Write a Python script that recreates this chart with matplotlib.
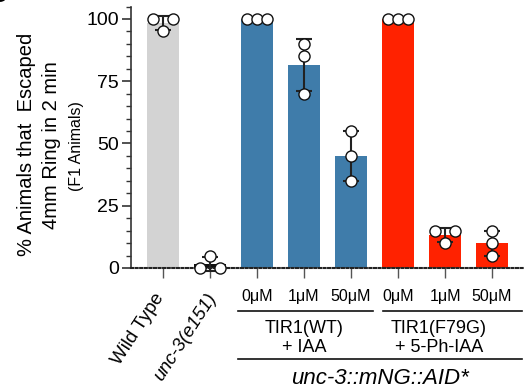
import numpy as np
import matplotlib
matplotlib.use("Agg")
import matplotlib.pyplot as plt
from matplotlib.ticker import MultipleLocator

plt.rcParams["font.family"] = ["Liberation Sans", "DejaVu Sans"]

# --- data ---
groups = ["Wild Type", "unc-3(e151)", "0μM", "1μM", "50μM", "0μM", "1μM", "50μM"]
replicates = [
    [100, 100, 95],
    [0, 0, 5],
    [100, 100, 100],
    [90, 85, 70],
    [55, 45, 35],
    [100, 100, 100],
    [15, 15, 10],
    [15, 10, 5],
]
bar_colors = ["#d3d3d3", "#111111", "#3f7caa", "#3f7caa", "#3f7caa",
              "#ff2200", "#ff2200", "#ff2200"]
treatment_labels = ["TIR1(WT)\n+ IAA", "TIR1(F79G)\n+ 5-Ph-IAA"]
strain_label = "unc-3::mNG::AID*"

x = np.arange(len(groups))
means = [np.mean(r) for r in replicates]
sds = [np.std(r, ddof=1) for r in replicates]

W, H = 525, 388
fig = plt.figure(figsize=(W / 100, H / 100), dpi=100)
ax = fig.add_axes([131 / W, 1 - 268 / H, 1 - 131 / W, (268 - 6.5) / H])

ax.bar(x, means, width=0.68, color=bar_colors, edgecolor="none", zorder=1)
ax.errorbar(x, means, yerr=sds, fmt="none", ecolor="#222", elinewidth=1.5,
            capsize=6, capthick=1.5, zorder=2, clip_on=False)

# replicate points, identical values spread sideways
spread = 0.215
for xi, vals in zip(x, replicates):
    vals = np.array(vals, dtype=float)
    for v in np.unique(vals):
        n = np.sum(vals == v)
        offs = (np.arange(n) - (n - 1) / 2) * spread
        if n == 2:
            offs = np.array([-spread, spread])
        ax.plot(xi + offs, [v] * n, "o", ms=8, mfc="white", mec="#111",
                mew=1.0, zorder=3, clip_on=False)

ax.set_xlim(-0.68, 7.70)
ax.set_ylim(0, 105)

for s in ["top", "right"]:
    ax.spines[s].set_visible(False)
ax.spines["left"].set_linewidth(1.2)
ax.spines["left"].set_color("#333")
ax.spines["bottom"].set_linewidth(1.5)
ax.spines["bottom"].set_linestyle((0, (1, 1.2)))
ax.spines["bottom"].set_color("#222")

ax.set_yticks([0, 25, 50, 75, 100])
ax.yaxis.set_minor_locator(MultipleLocator(5))
ax.tick_params(axis="y", which="major", length=6.5, width=1.2, color="#333",
               labelsize=14, pad=2)
ax.tick_params(axis="y", which="minor", length=3.5, width=1.0, color="#333")

ax.set_xticks(x)
ax.set_xticklabels([])
ax.tick_params(axis="x", length=7, width=1.0, color="#555")

xt = ax.get_xaxis_transform()


def ypos(px):
    # pixel row in the figure -> axes fraction (y axis)
    return -(px - 268) / 261.5


# x tick labels
for i, lab in enumerate(groups):
    if i < 2:
        ax.annotate(lab, xy=(x[i], 0), xycoords=("data", "axes fraction"),
                    xytext=(-2 if i == 0 else 2, -19), textcoords="offset points",
                    rotation=57, rotation_mode="anchor", ha="right", va="center",
                    fontsize=13.5, style="italic" if i == 1 else "normal")
    else:
        ax.text(x[i], ypos(297), lab, transform=xt, ha="center", va="center",
                fontsize=11.5)

# group brackets
for (x0, x1), lab, cx in zip([(1.6, 4.47), (4.68, 7.64)], treatment_labels,
                             [3.0, 5.87]):
    ax.plot([x0, x1], [ypos(311)] * 2, color="#111", lw=1.2,
            transform=xt, clip_on=False)
    ax.text(cx, ypos(338), lab, transform=xt, ha="center", va="center",
            fontsize=13, linespacing=1.15)

ax.plot([1.6, 7.64], [ypos(359)] * 2, color="#111", lw=1.2,
        transform=xt, clip_on=False)
ax.text((1.6 + 7.64) / 2, ypos(379), strain_label, transform=xt,
        ha="center", va="center", fontsize=16, style="italic")

# y label, three lines
fig.text(27 / W, 1 - 144 / H, "% Animals that  Escaped", rotation=90,
         ha="center", va="center", fontsize=14.5)
fig.text(52 / W, 1 - 145 / H, "4mm Ring in 2 min", rotation=90,
         ha="center", va="center", fontsize=14.5)
fig.text(77 / W, 1 - 146 / H, "(F1 Animals)", rotation=90,
         ha="center", va="center", fontsize=11.5)

# panel letter, cut off at the corner as in the source
fig.text(-0.018, 1.008, "C", fontsize=16, fontweight="bold", ha="left", va="center")

fig.savefig("out.png", dpi=100)
